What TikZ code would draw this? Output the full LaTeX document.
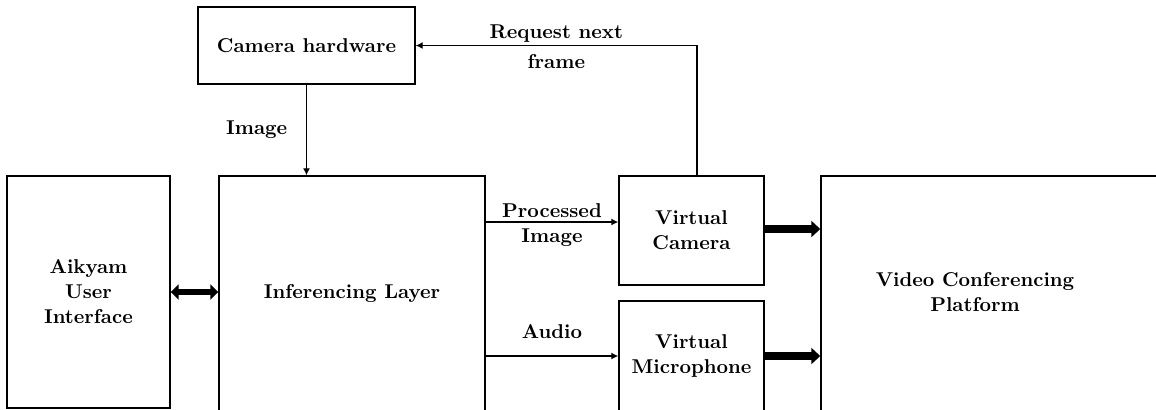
\documentclass[tikz,border=0pt]{standalone}
\usetikzlibrary{arrows.meta}

\begin{document}
\begin{tikzpicture}[
    x=0.5pt, y=-0.5pt,
    font=\fontsize{10}{12.5}\selectfont\bfseries,
    blockbox/.style={draw, line width=0.7pt, align=center, inner sep=0pt},
    thinarrow/.style={-{Latex[length=3.5pt,width=3.5pt]}, line width=0.6pt},
    fatarrow/.style={-{Triangle[length=4.5pt,width=8pt]}, line width=4pt}
]
\clip (0,0) rectangle (1156,409);

% Camera hardware
\node (camhw) [blockbox,
    minimum width=108.5pt,
    minimum height=38.5pt
] at (306.5,45.5) {Camera hardware};

% Aikyam UI
\node (aikyam) [blockbox,
    minimum width=81.5pt,
    minimum height=116pt
] at (88.5,292) {Aikyam\\User\\Interface};

% Inferencing layer
\node (infer) [blockbox,
    minimum width=133pt,
    minimum height=117.5pt
] at (352,293.5) {Inferencing Layer};

% Virtual devices
\node (vcam) [blockbox,
    minimum width=72.5pt,
    minimum height=54.5pt
] at (691.5,230.5) {Virtual\\Camera};

\node (vmic) [blockbox,
    minimum width=72.5pt,
    minimum height=55pt
] at (691.5,356) {Virtual\\Microphone};

% Video conferencing platform
\node (vcp) [blockbox,
    minimum width=172pt,
    minimum height=117.5pt,
    label={[align=center, xshift=-9pt, yshift=0.75pt]center:Video Conferencing\\Platform}
] at (993,293.5) {};

% Image
\draw [thinarrow] (camhw.south) -- node[midway, left=6pt, fill=none]{Image} (camhw.south |- infer.north);

% Request next frame
\draw [thinarrow] ([xshift=2.75pt]vcam.north) |- node[pos=0.75, above=-2pt, fill=none]{Request next}
    node[pos=0.75, below=1pt, fill=none]{frame} (camhw.east);

% Processed image / audio
\coordinate (vcamin) at ([yshift=4.25pt]vcam.west);
\draw [thinarrow] (infer.east |- vcamin) -- node[midway, yshift=-1.5pt, fill=none, align=center]{Processed\\Image} (vcamin);
\draw [thinarrow] (infer.east |- vmic.west) -- node[midway, above=5pt, fill=none]{Audio} (vmic.west);

% UI <-> inferencing
\draw [{Triangle[length=4pt,width=7.5pt]}-{Triangle[length=4pt,width=7.5pt]}, line width=3pt] (aikyam.east) -- (aikyam.east -| infer.west);

% to platform
\draw [fatarrow] ([yshift=0.75pt]vcam.east) -- ([yshift=0.75pt]vcam.east -| vcp.west);
\draw [fatarrow] (vmic.east) -- (vmic.east -| vcp.west);

\end{tikzpicture}
\end{document}
